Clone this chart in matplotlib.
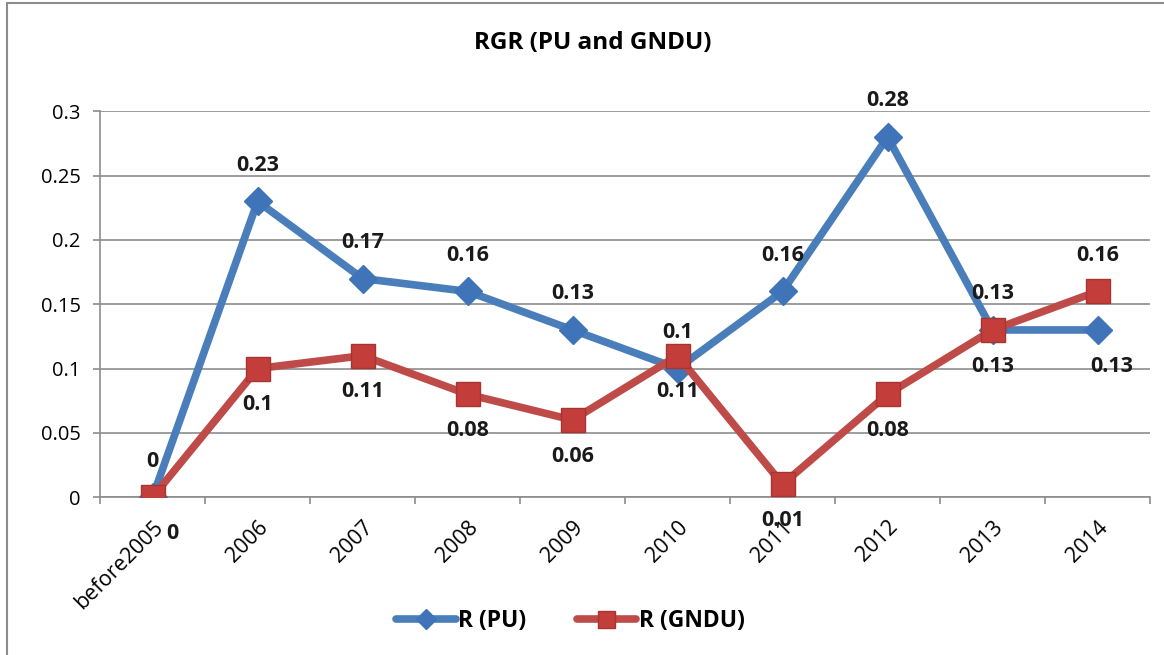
import matplotlib
matplotlib.use("Agg")
import matplotlib.pyplot as plt
from matplotlib.ticker import FixedLocator, NullFormatter

plt.rcParams['font.family'] = ['Open Sans', 'DejaVu Sans']

# data
years = ['before2005', '2006', '2007', '2008', '2009', '2010', '2011', '2012', '2013', '2014']
r_pu = [0, 0.23, 0.17, 0.16, 0.13, 0.10, 0.16, 0.28, 0.13, 0.13]
r_gndu = [0, 0.10, 0.11, 0.08, 0.06, 0.11, 0.01, 0.08, 0.13, 0.16]
pu_labels = ['0', '0.23', '0.17', '0.16', '0.13', '0.1', '0.16', '0.28', '0.13', '0.13']
gndu_labels = ['0', '0.1', '0.11', '0.08', '0.06', '0.11', '0.01', '0.08', '0.13', '0.16']
# label placement: 1 = above, -1 = below
pu_side = [1, 1, 1, 1, 1, 1, 1, 1, 1, -1]
gndu_side = [-1, -1, -1, -1, -1, -1, -1, -1, -1, 1]

blue = '#4a7ebb'
red = '#be4b48'

fig = plt.figure(figsize=(11.64, 6.55), dpi=100)
ax = fig.add_axes([0.086, 0.241, 0.902, 0.589])

x = list(range(len(years)))
ax.plot(x, r_pu, color=blue, lw=5.5, marker='D', ms=14, mfc='#3f74b8', mec='#3f74b8',
        label='R (PU)', zorder=3, solid_capstyle='round')
ax.plot(x, r_gndu, color=red, lw=5.5, marker='s', ms=17, mfc='#c33d3a', mec='#a83431',
        label='R (GNDU)', zorder=4, solid_capstyle='round')

for i in x:
    dx = 0
    if pu_side[i] < 0:
        dx = 10
    ax.annotate(pu_labels[i], (i, r_pu[i]), xytext=(dx, 26 * pu_side[i]), textcoords='offset points',
                ha='center', va='center', fontsize=15.5, fontweight='bold', color='#1a1a1a')
    dx = 14 if i == 0 else 0
    ax.annotate(gndu_labels[i], (i, r_gndu[i]), xytext=(dx, 26 * gndu_side[i]), textcoords='offset points',
                ha='center', va='center', fontsize=15.5, fontweight='bold', color='#1a1a1a')

ax.set_xlim(-0.5, len(years) - 0.5)
ax.set_ylim(0, 0.3)
ax.set_yticks([0, 0.05, 0.1, 0.15, 0.2, 0.25, 0.3])
ax.set_yticklabels(['0', '0.05', '0.1', '0.15', '0.2', '0.25', '0.3'], fontsize=14.5)
ax.set_xticks(x)
ax.set_xticklabels(years, rotation=45, ha='right', rotation_mode='anchor', fontsize=15.5)
ax.tick_params(axis='x', which='major', length=0, pad=14)
ax.xaxis.set_minor_locator(FixedLocator([i - 0.5 for i in range(len(years) + 1)]))
ax.xaxis.set_minor_formatter(NullFormatter())
ax.tick_params(axis='x', which='minor', length=5, color='#8c8c8c', width=1.2)
ax.tick_params(axis='y', length=5, color='#8c8c8c', width=1.2, pad=9)

ax.grid(axis='y', color='#8c8c8c', lw=1.2)
ax.set_axisbelow(True)
for s in ['top', 'right']:
    ax.spines[s].set_visible(False)
for s in ['left', 'bottom']:
    ax.spines[s].set_color('#8c8c8c')
    ax.spines[s].set_linewidth(1.2)

fig.text(0.509, 0.935, 'RGR (PU and GNDU)', ha='center', va='center', fontsize=17.5, fontweight='bold')

leg = fig.legend(loc='center', bbox_to_anchor=(0.49, 0.052), ncol=2, frameon=False, markerscale=0.72,
                 prop={'size': 16.5, 'weight': 'bold'}, handlelength=2.6, columnspacing=2.2, handletextpad=0.1)

# outer border
fig.patches.append(plt.Rectangle((0.006, -0.01), 1.1, 1.0055, transform=fig.transFigure,
                                 fill=False, edgecolor='#8c8c8c', lw=1.5))

fig.savefig('out.png', dpi=100)
